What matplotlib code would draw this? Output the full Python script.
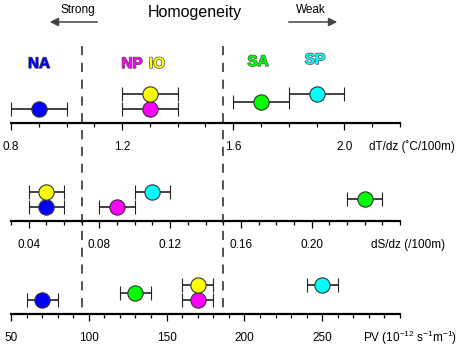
import numpy as np
import matplotlib
matplotlib.use('Agg')
import matplotlib.pyplot as plt
import matplotlib.patheffects as pe
from matplotlib.lines import Line2D
from matplotlib.transforms import blended_transform_factory

plt.rcParams['font.family'] = ['Liberation Sans', 'DejaVu Sans']
plt.rcParams['mathtext.fontset'] = 'custom'
plt.rcParams['mathtext.rm'] = 'Liberation Sans'
plt.rcParams['mathtext.it'] = 'Liberation Sans:italic'

# regions and their colours
regions = ['NA', 'NP', 'IO', 'SA', 'SP']
colors = ['#0000ff', '#ff00ff', '#ffff00', '#00ff00', '#00ffff']
row = [0, 0, 2, 1, 2]  # stacking row used when points overlap

# mean values and error half-widths
dTdz = [0.9, 1.3, 1.3, 1.7, 1.9]
dTdz_err = [0.1, 0.1, 0.1, 0.1, 0.1]
dSdz = [0.05, 0.09, 0.05, 0.23, 0.11]
dSdz_err = [0.01, 0.01, 0.01, 0.01, 0.01]
pv = [70, 170, 170, 130, 250]
pv_err = [10, 10, 10, 10, 10]

# homogeneity thresholds (in dS/dz units)
thresholds = [0.07, 0.15]

panels = [
    dict(x=dTdz, err=dTdz_err, xlim=(0.8, 2.2), major=[0.8, 1.2, 1.6, 2.0],
         fmt='{:.1f}', minor=0.1, label='dT/dz (˚C/100m)', axis_px=123, label_px=369),
    dict(x=dSdz, err=dSdz_err, xlim=(0.03, 0.25), major=[0.04, 0.08, 0.12, 0.16, 0.20],
         fmt='{:.2f}', minor=0.01, label='dS/dz (/100m)', axis_px=221, label_px=371),
    dict(x=pv, err=pv_err, xlim=(50, 300), major=[50, 100, 150, 200, 250],
         fmt='{:.0f}', minor=10, label=r'PV (10$^{-12}$ s$^{-1}$m$^{-1}$)', axis_px=314, label_px=363),
]

W, H = 459, 349
fig = plt.figure(figsize=(W / 100, H / 100), dpi=100)

left, right = 11, 400
axes = []
for p in panels:
    bottom = 1 - p['axis_px'] / H
    ax = fig.add_axes([left / W, bottom, (right - left) / W, 40 / H])
    axes.append(ax)
    for s in ['left', 'right', 'top']:
        ax.spines[s].set_visible(False)
    ax.spines['bottom'].set_linewidth(1.6)
    ax.set_xlim(*p['xlim'])
    ax.set_ylim(-14 / 7.5, 26 / 7.5)
    ax.set_yticks([])
    ax.patch.set_alpha(0)
    ax.set_xticks(p['major'])
    ax.set_xticklabels([p['fmt'].format(v) for v in p['major']], fontsize=8.5)
    n = int(round((p['xlim'][1] - p['xlim'][0]) / p['minor']))
    ax.set_xticks(np.linspace(p['xlim'][0], p['xlim'][1], n + 1), minor=True)
    ax.tick_params(which='major', length=5, width=0.9, pad=8)
    ax.tick_params(which='minor', length=3, width=0.9)
    for xi, ei, yi, c in zip(p['x'], p['err'], row, colors):
        ax.errorbar(xi, yi, xerr=ei, fmt='o', ms=11, mfc=c, mec='#333333', mew=0.8,
                    ecolor='#222222', elinewidth=1.2, capsize=5, capthick=1.2,
                    clip_on=False, zorder=3)
    ax.text(p['label_px'] / W, 1 - (p['axis_px'] + 24) / H, p['label'],
            transform=fig.transFigure, fontsize=8.5, ha='left', va='center')

# dashed threshold lines through all panels
tr = blended_transform_factory(axes[1].transData, fig.transFigure)
for t in thresholds:
    fig.add_artist(Line2D([t, t], [1 - 46 / H, 1 - 313 / H], transform=tr,
                          color='#222222', lw=1.1, dashes=(6, 5)))

# region names above the top panel
name_px = {'NA': (39, 64), 'NP': (132, 64), 'IO': (157, 64), 'SA': (258, 62), 'SP': (315, 60)}
for r, c in zip(regions, colors):
    x, y = name_px[r]
    fig.text(x / W, 1 - y / H, r, color=c, fontsize=11, fontweight='bold',
             ha='center', va='center',
             path_effects=[pe.withStroke(linewidth=1.0, foreground='#555555')])

# title and arrows
fig.text(195 / W, 1 - 12 / H, 'Homogeneity', fontsize=11.5, ha='center', va='center')
fig.text(78 / W, 1 - 10 / H, 'Strong', fontsize=8.5, ha='center', va='center')
fig.text(311 / W, 1 - 10 / H, 'Weak', fontsize=8.5, ha='center', va='center')
fig.add_artist(matplotlib.patches.FancyArrowPatch(
    (100 / W, 1 - 22 / H), (47 / W, 1 - 22 / H), transform=fig.transFigure,
    arrowstyle='-|>,head_length=5,head_width=2.5', color='#444444', lw=1.1))
fig.add_artist(matplotlib.patches.FancyArrowPatch(
    (286 / W, 1 - 22 / H), (340 / W, 1 - 22 / H), transform=fig.transFigure,
    arrowstyle='-|>,head_length=5,head_width=2.5', color='#444444', lw=1.1))

fig.savefig('out.png', dpi=100)
